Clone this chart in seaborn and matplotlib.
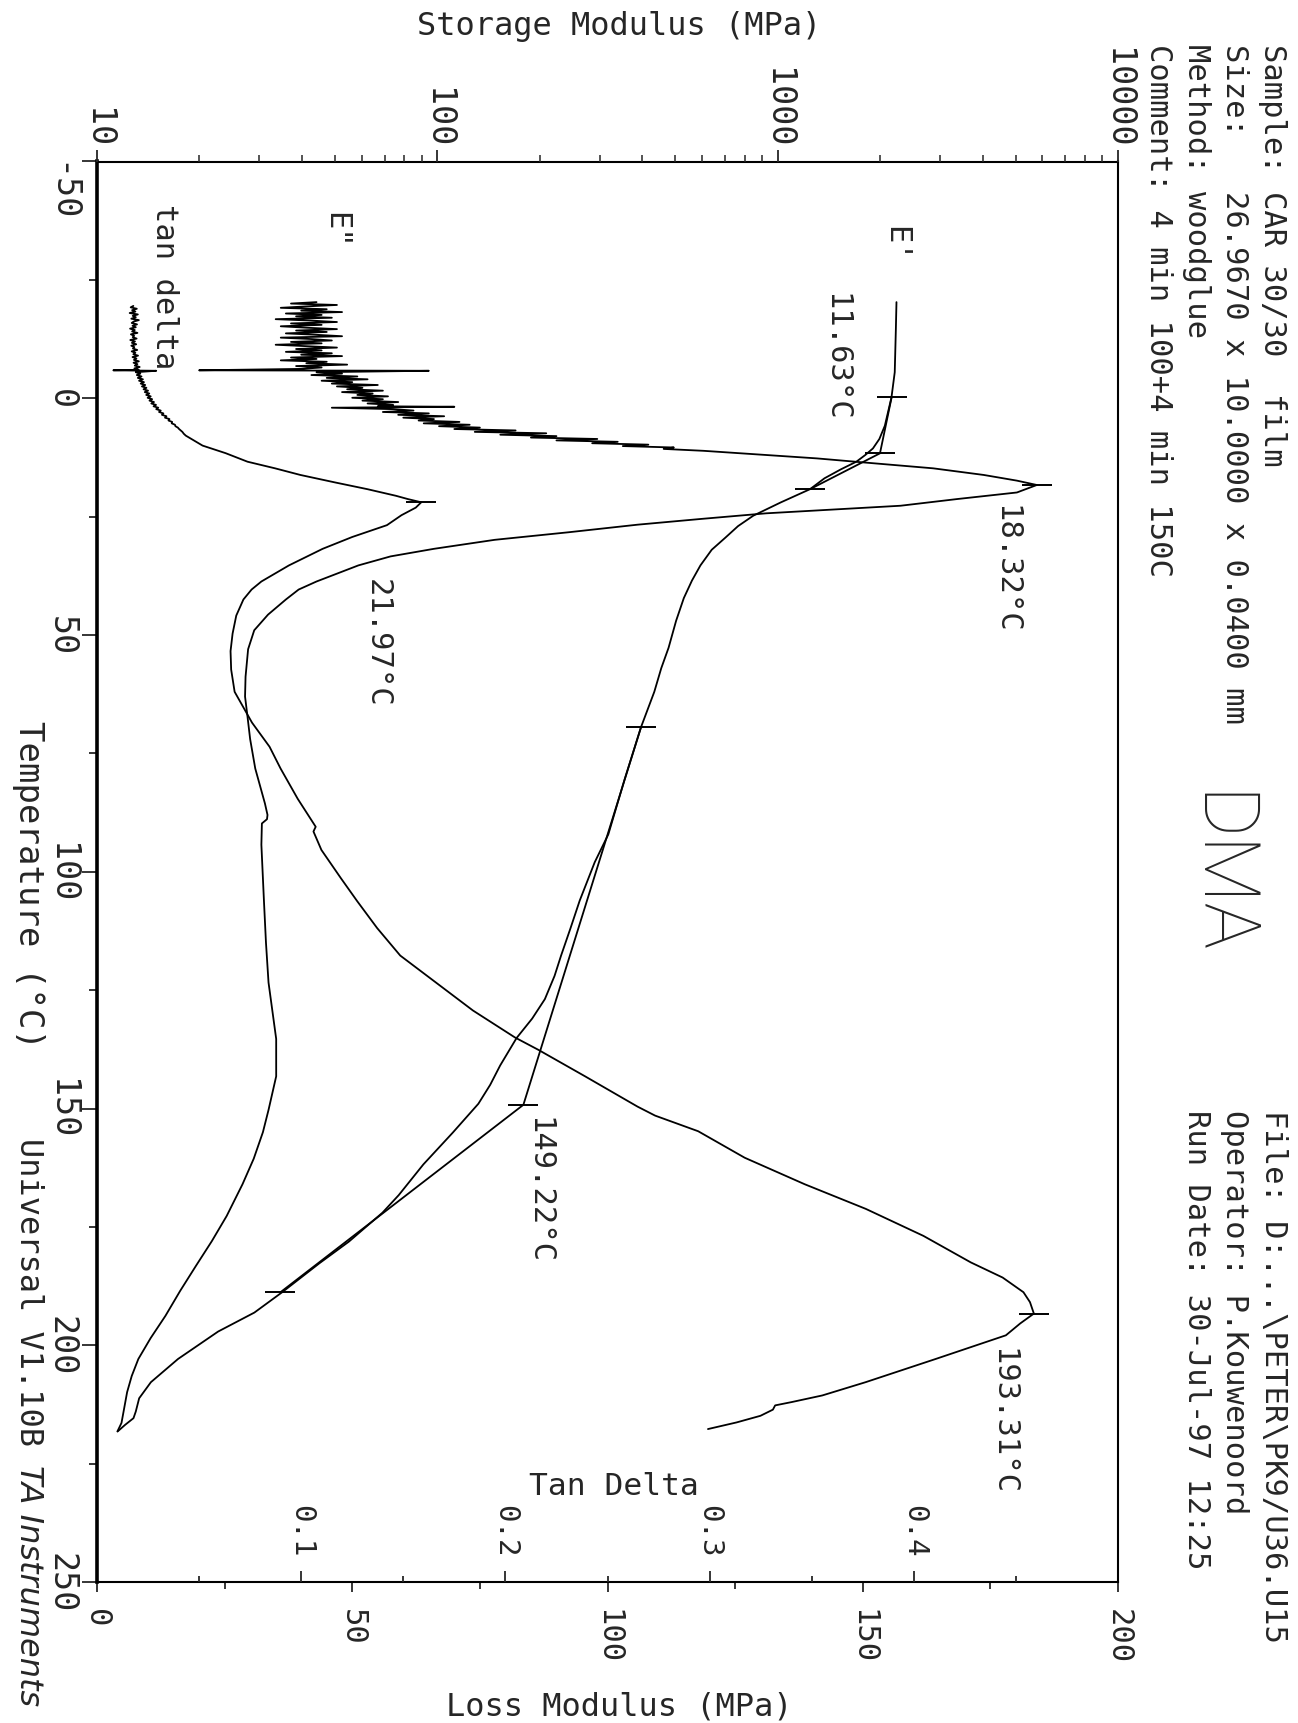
import matplotlib
matplotlib.use("Agg")
import matplotlib.pyplot as plt
import seaborn as sns
from matplotlib.ticker import LogLocator, NullFormatter

sns.set_theme(style="white")
plt.rcParams["font.family"] = ["DejaVu Sans Mono", "DejaVu Sans"]
plt.rcParams["axes.unicode_minus"] = False

# ---------------- data: (temperature degC, value) ----------------
# Storage modulus E' (MPa, log axis)
storage_curve = [(-20.3, 2234), (-14.7, 2225), (-5.5, 2208), (-0.2, 2160), (5.8, 2065),
                 (8.6, 1990), (10.6, 1905), (12.0, 1808), (13.4, 1703), (15.0, 1535),
                 (16.9, 1373), (19.2, 1245), (22.0, 1021), (24.8, 848), (27.0, 765),
                 (29.4, 703), (32.0, 640), (35.3, 593), (38.5, 560), (42.2, 530),
                 (47.0, 503), (52.7, 478), (57.0, 455), (62.0, 434), (69.4, 397),
                 (80.5, 355), (92.1, 318), (98.0, 290), (106.1, 262), (112.0, 246),
                 (117.7, 231), (122.0, 221), (126.9, 207), (131.0, 190), (135.1, 171),
                 (140.9, 153), (145.0, 143), (149.0, 132), (155.1, 111), (161.8, 91),
                 (168.3, 77), (172.0, 69), (178.1, 55), (182.7, 45), (188.8, 35),
                 (193.1, 29), (197.1, 22.7), (202.9, 17.3), (207.8, 14.4), (211.2, 13.3),
                 (214.0, 13.0), (215.4, 12.8), (216.8, 12.1), (218.2, 11.5)]

# onset tangent constructions on E'
onset1 = [(-0.2, 2162), (11.63, 1998), (19.2, 1245)]
onset2 = [(69.4, 397), (149.22, 179), (188.8, 34.6)]

# Loss modulus E'' (MPa, linear axis)
loss_curve = [(-20.3, 43), (-20.0, 38), (-19.7, 47), (-19.4, 41), (-19.1, 36), (-18.8, 45),
              (-18.5, 40), (-18.2, 48), (-17.9, 37), (-17.6, 44), (-17.3, 39), (-17.0, 46),
              (-16.7, 35), (-16.4, 42), (-16.1, 47), (-15.8, 38), (-15.5, 44), (-15.2, 36),
              (-14.9, 41), (-14.6, 47), (-14.3, 39), (-14.0, 45), (-13.7, 37), (-13.4, 43),
              (-13.1, 48), (-12.8, 36), (-12.5, 42), (-12.2, 46), (-11.9, 38), (-11.6, 44),
              (-11.3, 35), (-11.0, 41), (-10.7, 47), (-10.4, 39), (-10.1, 44), (-9.8, 37),
              (-9.5, 46), (-9.2, 40), (-8.9, 48), (-8.6, 38), (-8.3, 43), (-8.0, 36),
              (-7.7, 45), (-7.4, 41), (-7.1, 49), (-6.8, 39), (-6.5, 44), (-6.2, 40),
              (-5.9, 20), (-5.8, 65), (-5.5, 43), (-5.2, 48), (-4.9, 42), (-4.6, 51),
              (-4.3, 45), (-4.0, 53), (-3.7, 44), (-3.4, 50), (-3.1, 46), (-2.8, 55),
              (-2.5, 47), (-2.2, 52), (-1.9, 49), (-1.6, 56), (-1.3, 48), (-1.0, 54),
              (-0.7, 51), (-0.4, 57), (-0.1, 50), (0.2, 56), (0.5, 52), (0.8, 59),
              (1.1, 53), (1.4, 58), (1.7, 55), (1.8, 70), (2.0, 46), (2.3, 58),
              (2.6, 62), (2.9, 56), (3.2, 65), (3.5, 59), (3.8, 68), (4.1, 60),
              (4.4, 66), (4.7, 63), (5.0, 71), (5.3, 64), (5.6, 73), (5.9, 67),
              (6.2, 75), (6.5, 70), (6.8, 82), (7.1, 74), (7.4, 88), (7.7, 79),
              (8.0, 90), (8.3, 85), (8.6, 98), (8.9, 90), (9.2, 102), (9.5, 97),
              (9.8, 108), (10.1, 103), (10.4, 113), (10.7, 111), (11.1, 118.8),
              (12.7, 141.0), (13.4, 148.5), (14.8, 163.8), (16.2, 173.7), (17.4, 180.2),
              (18.32, 184.1), (19.9, 180.2), (21.3, 168.4), (22.7, 157.4), (24.3, 131.1),
              (25.5, 118.2), (26.7, 105.9), (28.3, 92.4), (29.9, 77.9), (31.8, 66.0),
              (33.4, 57.5), (35.3, 51.2), (38.7, 43.0), (40.4, 39.5), (42.5, 37.0),
              (45.7, 33.5), (49.0, 30.8), (53.0, 29.6), (58.8, 29.1), (63.0, 29.0),
              (67.4, 29.5), (72.0, 30.0), (78.2, 31.0), (85.6, 32.9), (88.0, 33.4),
              (88.9, 33.3), (89.8, 32.3), (94.3, 32.2), (106.1, 32.7), (115.0, 33.1),
              (123.4, 33.6), (135.3, 35.1), (143.2, 35.1), (150.3, 33.6), (155.0, 32.5),
              (160.6, 30.7), (166.0, 28.5), (172.7, 25.4), (178.0, 22.5), (183.2, 19.4),
              (188.5, 16.3), (193.8, 13.4), (198.5, 10.5), (202.9, 8.1), (206.5, 6.8),
              (209.9, 5.9), (216.4, 4.8), (218.2, 4.0)]

# Tan delta
tan_curve = [(-19.5, 0.0178), (-19.2, 0.0165), (-18.9, 0.0195), (-18.6, 0.0172), (-18.3, 0.0188),
             (-18.0, 0.0160), (-17.7, 0.0200), (-17.4, 0.0175), (-17.1, 0.0190), (-16.8, 0.0168),
             (-16.5, 0.0205), (-16.2, 0.0180), (-15.9, 0.0170), (-15.6, 0.0196), (-15.3, 0.0174),
             (-15.0, 0.0190), (-14.7, 0.0162), (-14.4, 0.0185), (-14.1, 0.0172), (-13.8, 0.0198),
             (-13.5, 0.0166), (-13.2, 0.0182), (-12.9, 0.0175), (-12.6, 0.0194), (-12.3, 0.0163),
             (-12.0, 0.0186), (-11.7, 0.0171), (-11.4, 0.0192), (-11.1, 0.0168), (-10.8, 0.0183),
             (-10.5, 0.0176), (-10.2, 0.0197), (-9.9, 0.0170), (-9.6, 0.0188), (-9.3, 0.0178),
             (-9.0, 0.0201), (-8.7, 0.0174), (-8.4, 0.0193), (-8.1, 0.0181), (-7.8, 0.0205),
             (-7.5, 0.0179), (-7.2, 0.0198), (-6.9, 0.0185), (-6.6, 0.0209), (-6.3, 0.0183),
             (-6.0, 0.0204), (-5.9, 0.0080), (-5.8, 0.0290), (-5.5, 0.0190), (-5.2, 0.0212),
             (-4.9, 0.0195), (-4.6, 0.0218), (-4.3, 0.0200), (-4.0, 0.0225), (-3.7, 0.0206),
             (-3.4, 0.0230), (-3.1, 0.0214), (-2.8, 0.0236), (-2.5, 0.0220), (-2.2, 0.0242),
             (-1.9, 0.0228), (-1.6, 0.0250), (-1.3, 0.0234), (-1.0, 0.0256), (-0.7, 0.0241),
             (-0.4, 0.0263), (-0.1, 0.0248), (0.2, 0.0270), (0.5, 0.0257), (0.8, 0.0279),
             (1.1, 0.0266), (1.4, 0.0289), (1.7, 0.0277), (2.0, 0.0300), (2.3, 0.0290),
             (2.6, 0.0312), (2.9, 0.0304), (3.2, 0.0325), (3.5, 0.0318), (3.8, 0.0340),
             (4.1, 0.0333), (4.4, 0.0355), (4.7, 0.0350), (5.0, 0.0368), (5.3, 0.0366),
             (5.6, 0.0382), (5.9, 0.0384), (6.2, 0.0396), (6.5, 0.0402), (6.8, 0.0410),
             (7.1, 0.0418), (7.5, 0.0425), (7.9, 0.0435), (10.0, 0.0517), (11.6, 0.0630),
             (13.4, 0.0737), (14.8, 0.0872), (16.2, 0.0996), (17.8, 0.1168), (19.2, 0.1324),
             (20.6, 0.1464), (21.3, 0.1523), (21.97, 0.1588), (23.1, 0.1561), (24.7, 0.1491),
             (26.8, 0.1420), (29.3, 0.1250), (31.8, 0.1105), (35.3, 0.0940), (38.7, 0.0805),
             (40.4, 0.0757), (42.5, 0.0717), (45.9, 0.0682), (49.7, 0.0664), (53.4, 0.0654),
             (57.3, 0.0657), (62.0, 0.0674), (68.5, 0.0759), (73.6, 0.0845), (78.2, 0.0899),
             (84.6, 0.0983), (88.7, 0.1044), (90.5, 0.1071), (91.5, 0.1060), (95.4, 0.1099),
             (101.4, 0.1195), (106.2, 0.1274), (111.9, 0.1372), (117.7, 0.1485), (123.4, 0.1660),
             (129.3, 0.1841), (135.0, 0.2047), (137.6, 0.2161), (143.2, 0.2390), (149.6, 0.2647),
             (151.5, 0.2733), (154.8, 0.2944), (160.4, 0.3172), (166.0, 0.3466), (171.2, 0.3765),
             (176.9, 0.4047), (182.5, 0.4279), (185.7, 0.4435), (188.8, 0.4537), (190.9, 0.4569),
             (193.31, 0.4588), (195.4, 0.4521), (197.9, 0.4451), (202.9, 0.4107), (207.8, 0.3764),
             (210.6, 0.3552), (212.0, 0.3402), (212.7, 0.3321), (213.6, 0.3310), (214.9, 0.3249),
             (216.3, 0.3132), (217.7, 0.2992)]

# analysis marks
storage_marks = [(-0.2, 2162), (11.63, 1998), (19.2, 1245), (69.4, 397), (149.22, 179), (188.8, 34.6)]
loss_marks = [(18.32, 184.1)]
tan_marks = [(21.97, 0.1588), (193.31, 0.4588)]

temp_ticks = [-50, 0, 50, 100, 150, 200, 250]
loss_ticks = [0, 50, 100, 150, 200]
storage_ticks = [10, 100, 1000, 10000]
tan_ticks = [0.1, 0.2, 0.3, 0.4]


def unzip(pairs):
    return [p[0] for p in pairs], [p[1] for p in pairs]


# ---------------- figure ----------------
W, H = 1298, 1724
fig = plt.figure(figsize=(W / 100, H / 100), dpi=100)
L, R, T, B = 97, 1118, 162.5, 1583
ax = fig.add_axes([L / W, 1 - B / H, (R - L) / W, (B - T) / H])
ax_s = ax.twiny()
ax_t = ax.twiny()

lw = 1.3
for pairs, a in [(loss_curve, ax), (storage_curve, ax_s), (onset1, ax_s), (onset2, ax_s), (tan_curve, ax_t)]:
    t, v = unzip(pairs)
    sns.lineplot(x=v, y=t, sort=False, estimator=None, ax=a, color="black", lw=lw)

mk = dict(ls="none", marker="_", ms=22, mew=1.4, color="black")
for pairs, a in [(storage_marks, ax_s), (loss_marks, ax), (tan_marks, ax_t)]:
    t, v = unzip(pairs)
    a.plot(v, t, **mk)

# limits
ax.set_xlim(0, 200)
ax.set_ylim(250, -50)
ax_s.set_xscale("log")
ax_s.set_xlim(10, 10000)
ax_t.set_xlim(0, 0.5)
for a in (ax, ax_s, ax_t):
    a.set_xlabel("")
    a.set_ylabel("")
    a.grid(False)

# spines
for a in (ax_s, ax_t):
    for s in a.spines.values():
        s.set_visible(False)
for name, s in ax.spines.items():
    s.set_color("black")
    s.set_linewidth(2.6 if name == "left" else 1.5)

# temperature axis (left)
ax.set_yticks(temp_ticks, labels=[str(t) for t in temp_ticks], rotation=-90,
              rotation_mode="default", ha="right", va="center", fontsize=24)
ax.set_yticks([-25, 25, 75, 125, 175, 225], minor=True)
ax.tick_params(axis="y", which="major", direction="out", length=11, width=1.3,
               left=True, right=False, pad=3)
ax.tick_params(axis="y", which="minor", direction="out", length=6, width=1.3,
               left=True, right=False)
ax.get_yticklabels()[0].set_va("top")

# loss modulus axis (bottom)
ax.set_xticks(loss_ticks, labels=[str(v) for v in loss_ticks], rotation=-90,
              rotation_mode="default", ha="center", va="top", fontsize=22)
ax.set_xticks([25, 75, 125, 175], minor=True)
ax.tick_params(axis="x", which="major", direction="out", length=7, width=1.3,
               bottom=True, top=False, pad=12)
ax.tick_params(axis="x", which="minor", direction="out", length=5, width=1.3,
               bottom=True, top=False)

# storage modulus axis (top, log)
ax_s.set_xticks(storage_ticks, labels=[str(v) for v in storage_ticks], rotation=-90,
                rotation_mode="default", ha="center", va="bottom", fontsize=24)
ax_s.xaxis.set_minor_locator(LogLocator(base=10, subs=range(2, 10)))
ax_s.xaxis.set_minor_formatter(NullFormatter())
ax_s.tick_params(axis="x", which="major", direction="out", length=9, width=1.3,
                 top=True, bottom=False, labeltop=True, labelbottom=False, pad=1)
ax_s.tick_params(axis="x", which="minor", direction="out", length=5, width=1.1,
                 top=True, bottom=False)

# tan delta axis (inner ticks on bottom)
ax_t.xaxis.set_ticks_position("bottom")
ax_t.set_xticks(tan_ticks)
ax_t.set_xticks([0.05, 0.15, 0.25, 0.35, 0.45], minor=True)
ax_t.tick_params(axis="x", which="major", direction="in", length=8, width=1.3,
                 bottom=True, top=False, labelbottom=False, labeltop=False)
ax_t.tick_params(axis="x", which="minor", direction="in", length=4, width=1.3,
                 bottom=True, top=False, labelbottom=False, labeltop=False)
for v in tan_ticks:
    ax_t.text(v, 239.0, f"{v:.1f}", rotation=-90, ha="center", va="center", fontsize=21)
ax.text(101.2, 229.6, "Tan Delta", ha="center", va="center", fontsize=22.5)

# curve annotations
ann = [("E'", 156.5, -32.8), ('E"', 46.7, -35.6), ("tan delta", 13.3, -23.7),
       ("11.63°C", 144.7, -8.9), ("18.32°C", 178.0, 35.9), ("21.97°C", 54.9, 51.5),
       ("149.22°C", 86.5, 167.1), ("193.31°C", 177.4, 215.9)]
for txt, xv, tv in ann:
    ax.text(xv, tv, txt, rotation=-90, ha="center", va="center", fontsize=22)


# figure-level texts (pixel positions)
def ftext(x, y, s, **kw):
    fig.text(x / W, 1 - y / H, s, **kw)


ftext(619, 27, "Storage Modulus (MPa)", ha="center", va="center", fontsize=23)
ftext(619, 1707, "Loss Modulus (MPa)", ha="center", va="center", fontsize=23)
ftext(28, 885, "Temperature (°C)", rotation=-90, ha="center", va="center", fontsize=24.5)
ftext(28, 1138, "Universal V1.10B", rotation=-90, ha="center", va="top", fontsize=23)
ftext(28, 1465, "TA Instruments", rotation=-90, ha="center", va="top", fontsize=23,
      style="italic", family=["DejaVu Sans"])

header1 = ["Sample: CAR 30/30  film", "Size:   26.9670 x 10.0000 x 0.0400 mm",
           "Method: woodglue", "Comment: 4 min 100+4 min 150C"]
header2 = ["File: D:...\\PETER\\PK9/U36.U15", "Operator: P.Kouwenoord",
           "Run Date: 30-Jul-97 12:25"]
cols = [1273, 1235, 1197, 1159]
for s, cx in zip(header1, cols):
    ftext(cx, 44, s, rotation=-90, ha="center", va="top", fontsize=22)
for s, cx in zip(header2, cols):
    ftext(cx, 1110, s, rotation=-90, ha="center", va="top", fontsize=22)
ftext(1218, 874, "DMA", rotation=-90, ha="center", va="center", fontsize=56,
      family=["Roboto", "DejaVu Sans"], fontweight="light")

fig.savefig("out.png", dpi=100, facecolor="white")
